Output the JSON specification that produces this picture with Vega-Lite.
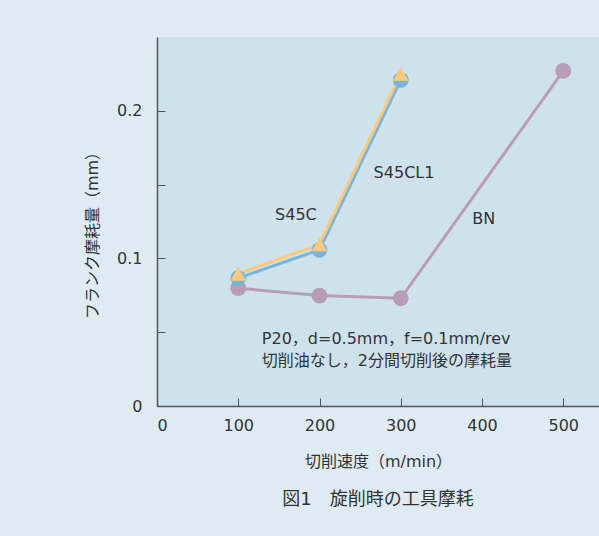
{
  "$schema": "https://vega.github.io/schema/vega-lite/v6.json",
  "width": 442,
  "height": 369,
  "autosize": {"type": "none"},
  "padding": {"left": 157, "top": 37, "right": 0, "bottom": 130},
  "background": "#deebf3",
  "config": {
    "view": {"fill": "#cee2ec", "stroke": null},
    "font": "DejaVu Sans, Noto Sans CJK JP"
  },
  "title": {
    "text": "図1　旋削時の工具摩耗",
    "orient": "bottom",
    "anchor": "middle",
    "font": "DejaVu Sans, Noto Sans CJK JP",
    "fontSize": 18,
    "fontWeight": "normal",
    "color": "#333333",
    "offset": 22
  },
  "datasets": {
    "series": [
      {"speed": 100, "wear": 0.0798, "material": "BN"},
      {"speed": 200, "wear": 0.0748, "material": "BN"},
      {"speed": 300, "wear": 0.0730, "material": "BN"},
      {"speed": 500, "wear": 0.2270, "material": "BN"},
      {"speed": 100, "wear": 0.0866, "material": "S45C"},
      {"speed": 200, "wear": 0.1058, "material": "S45C"},
      {"speed": 300, "wear": 0.2210, "material": "S45C"},
      {"speed": 100, "wear": 0.0895, "material": "S45CL1"},
      {"speed": 200, "wear": 0.1095, "material": "S45CL1"},
      {"speed": 300, "wear": 0.2250, "material": "S45CL1"}
    ],
    "labels": [
      {"x": 171, "y": 0.1295, "text": "S45C"},
      {"x": 304, "y": 0.1577, "text": "S45CL1"},
      {"x": 402, "y": 0.1266, "text": "BN"}
    ],
    "notes": [
      {"x": 129, "y": 0.0454, "text": "P20，d=0.5mm，f=0.1mm/rev"},
      {"x": 129, "y": 0.0305, "text": "切削油なし，2分間切削後の摩耗量"}
    ]
  },
  "encoding": {
    "x": {
      "type": "quantitative",
      "scale": {"domain": [0, 544], "nice": false, "zero": false},
      "axis": {
        "title": "切削速度（m/min）",
        "values": [0, 100, 200, 300, 400, 500],
        "grid": false,
        "domainColor": "#555555",
        "domainWidth": 1.5,
        "tickColor": "#555555",
        "tickWidth": 1,
        "tickSize": -8,
        "labelPadding": 19,
        "labelFontSize": 16,
        "labelColor": "#333333",
        "labelFont": "DejaVu Sans",
        "titleFont": "DejaVu Sans, Noto Sans CJK JP",
        "titleFontSize": 16,
        "titleFontWeight": "normal",
        "titleColor": "#333333",
        "titleY": 55,
        "titleBaseline": "middle"
      }
    },
    "y": {
      "type": "quantitative",
      "scale": {"domain": [0, 0.25], "nice": false},
      "axis": {
        "title": "フランク摩耗量（mm）",
        "values": [0, 0.05, 0.1, 0.15, 0.2],
        "format": ".2~f",
        "labelExpr": "indexof(['0','0.1','0.2'], datum.label) >= 0 ? datum.label : ''",
        "grid": false,
        "domainColor": "#555555",
        "domainWidth": 1.5,
        "tickColor": "#555555",
        "tickWidth": 1,
        "tickSize": -8,
        "labelPadding": 23,
        "labelFontSize": 16,
        "labelColor": "#333333",
        "labelFont": "DejaVu Sans",
        "titleFont": "DejaVu Sans, Noto Sans CJK JP",
        "titleFontSize": 16,
        "titleFontWeight": "normal",
        "titleColor": "#333333",
        "titleX": -65,
        "titleY": 194,
        "titleAngle": -90,
        "titleAlign": "center",
        "titleBaseline": "middle"
      }
    }
  },
  "layer": [
    {
      "mark": {"type": "rule", "color": "#555555", "strokeWidth": 2},
      "encoding": {"y": {"datum": 0.25}, "x": {"datum": 0}, "x2": {"datum": 544}}
    },
    {
      "data": {"name": "series"},
      "mark": {"type": "line", "strokeWidth": 3},
      "encoding": {
        "x": {"field": "speed"},
        "y": {"field": "wear"},
        "color": {
          "field": "material",
          "type": "nominal",
          "scale": {"domain": ["BN", "S45C", "S45CL1"], "range": ["#b99cb8", "#7ab4d8", "#fdc87c"]},
          "legend": null
        }
      }
    },
    {
      "data": {"name": "series"},
      "mark": {"type": "point", "filled": true, "opacity": 1},
      "encoding": {
        "x": {"field": "speed"},
        "y": {"field": "wear"},
        "color": {"field": "material", "type": "nominal", "legend": null},
        "shape": {
          "field": "material",
          "type": "nominal",
          "scale": {"domain": ["BN", "S45C", "S45CL1"], "range": ["circle", "circle", "triangle-up"]},
          "legend": null
        },
        "size": {
          "field": "material",
          "type": "nominal",
          "scale": {"domain": ["BN", "S45C", "S45CL1"], "range": [250, 250, 380]},
          "legend": null
        }
      }
    },
    {
      "data": {"name": "labels"},
      "mark": {"type": "text", "fontSize": 16, "font": "DejaVu Sans", "color": "#333333", "align": "center", "baseline": "middle"},
      "encoding": {
        "x": {"field": "x"},
        "y": {"field": "y"},
        "text": {"field": "text"}
      }
    },
    {
      "data": {"name": "notes"},
      "mark": {"type": "text", "fontSize": 16, "font": "DejaVu Sans, Noto Sans CJK JP", "color": "#333333", "align": "left", "baseline": "middle"},
      "encoding": {
        "x": {"field": "x"},
        "y": {"field": "y"},
        "text": {"field": "text"}
      }
    }
  ]
}
